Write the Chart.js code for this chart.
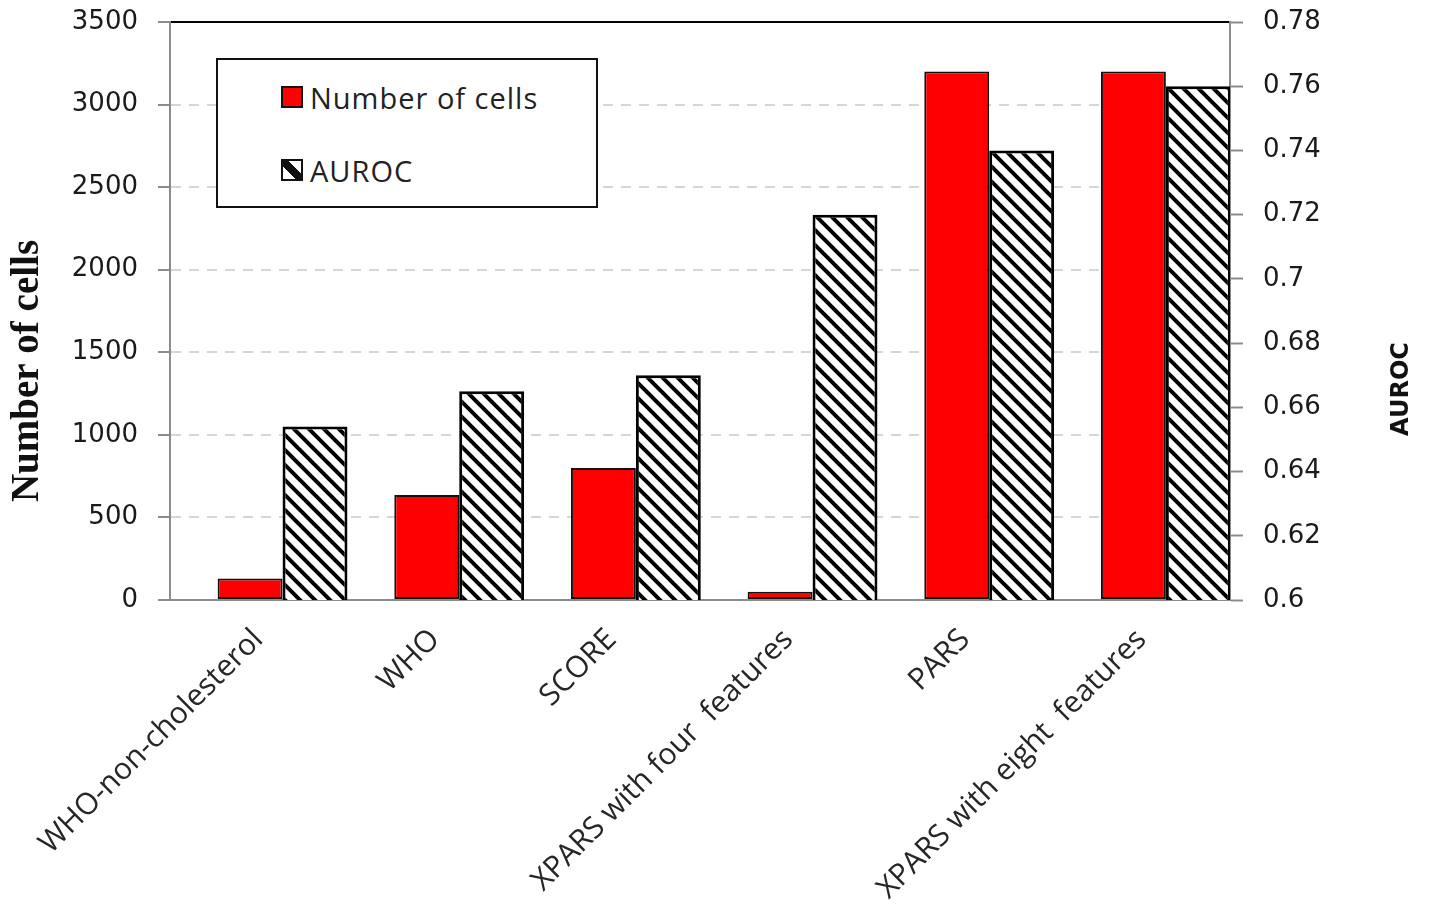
<!DOCTYPE html>
<html>
<head>
<meta charset="utf-8">
<script src="https://cdn.jsdelivr.net/npm/chart.js@4.4.0/dist/chart.umd.min.js"></script>
<style>
    html, body { margin: 0; background: #fff; }
    #wrap { position: relative; width: 1431px; height: 918px; }
    #legend {
        position: absolute; left: 216px; top: 58px; width: 378px; height: 146px;
        border: 2px solid #111; background: #fff;
        font-family: "Open Sans", sans-serif; font-size: 29px; letter-spacing: 1px; color: #222;
    }
    .item { position: absolute; left: 63px; display: flex; align-items: center; height: 36px; }
    .sw { width: 18px; height: 18px; border: 2px solid #111; margin-right: 7px; }
    .sw.red { background: #ff0000; }
    .sw.hatch { background: linear-gradient(to top right, #fff 36%, #111 36%, #111 64%, #fff 64%); }
</style>
</head>
<body>
<div id="wrap">
    <canvas id="chart" width="1431" height="918"></canvas>
    <div id="legend">
        <div class="item" style="top:19px"><span class="sw red"></span><span id="lg0"></span></div>
        <div class="item" style="top:92px"><span class="sw hatch"></span><span id="lg1"></span></div>
    </div>
</div>
<script>
const categories = ['WHO-non-cholesterol', 'WHO', 'SCORE', 'XPARS with four  features', 'PARS', 'XPARS with eight  features'];
const cellCounts = [130, 636, 800, 50, 3200, 3200];
const aurocValues = [0.654, 0.665, 0.670, 0.720, 0.740, 0.760];
const cellTicks = [0, 500, 1000, 1500, 2000, 2500, 3000, 3500];
const aurocTicks = [0.6, 0.62, 0.64, 0.66, 0.68, 0.7, 0.72, 0.74, 0.76, 0.78];
const seriesNames = ['Number of cells', 'AUROC'];

document.getElementById('lg0').textContent = seriesNames[0];
document.getElementById('lg1').textContent = seriesNames[1];

// diagonal black stripes on white for the AUROC bars
function makeHatch() {
    const s = 15;
    const c = document.createElement('canvas');
    c.width = c.height = s;
    const g = c.getContext('2d');
    g.fillStyle = '#fff';
    g.fillRect(0, 0, s, s);
    g.strokeStyle = '#000';
    g.lineWidth = 4;
    g.beginPath();
    g.moveTo(-s, 0); g.lineTo(s, 2 * s);
    g.moveTo(0, 0); g.lineTo(s, s);
    g.moveTo(0, -s); g.lineTo(2 * s, s);
    g.stroke();
    return g.createPattern(c, 'repeat');
}

// vertical axis titles drawn bottom-to-top
const axisTitles = {
    id: 'axisTitles',
    afterDraw(chart, args, opts) {
        const ctx = chart.ctx;
        opts.items.forEach(t => {
            ctx.save();
            ctx.translate(t.x, t.y);
            ctx.rotate(-Math.PI / 2);
            ctx.font = t.font;
            ctx.fillStyle = t.color;
            ctx.textAlign = 'center';
            ctx.textBaseline = 'middle';
            ctx.fillText(t.text, 0, 0);
            ctx.restore();
        });
    }
};

const tickFont = { family: 'DejaVu Sans', size: 26 };
const axisGrey = '#8c8c8c';
const toTicks = arr => arr.map(v => ({ value: v }));

// fixed axis box, no extra room reserved for overhanging tick labels
const fixWidth = w => s => { s.width = w; s.paddingTop = 0; s.paddingBottom = 0; };

new Chart(document.getElementById('chart'), {
    type: 'bar',
    data: {
        labels: categories,
        datasets: [{
            label: seriesNames[0],
            data: cellCounts.map((v, i) => ({ x: i, y: v })),
            backgroundColor: '#ff0000',
            borderColor: '#111',
            borderWidth: 2,
            borderSkipped: false,
            xAxisID: 'xb',
            yAxisID: 'y',
            categoryPercentage: 0.735,
            barPercentage: 1
        }, {
            label: seriesNames[1],
            data: aurocValues.map((v, i) => ({ x: i, y: v })),
            backgroundColor: makeHatch(),
            borderColor: '#000',
            borderWidth: 3,
            borderSkipped: false,
            xAxisID: 'xb',
            yAxisID: 'y1',
            categoryPercentage: 0.735,
            barPercentage: 1
        }]
    },
    options: {
        responsive: false,
        animation: false,
        layout: { padding: { top: 22 } },
        plugins: {
            legend: { display: false },
            tooltip: { enabled: false },
            axisTitles: {
                items: [
                    { text: 'Number of cells', x: 28, y: 371, font: 'bold 39px "Liberation Serif"', color: '#111' },
                    { text: 'AUROC', x: 1402, y: 389, font: 'bold 24px "DejaVu Sans"', color: '#111' }
                ]
            }
        },
        scales: {
            x: {
                type: 'category',
                position: 'bottom',
                offset: true,
                grid: { display: false },
                border: { display: true, color: axisGrey, width: 2 },
                ticks: {
                    maxRotation: 45, minRotation: 45, padding: 14,
                    font: { family: 'Open Sans', size: 30 }, color: '#262626'
                },
                afterFit: s => { s.height = 318; s.paddingLeft = 0; s.paddingRight = 0; }
            },
            // hidden index axis that places the bar pairs inside each category
            xb: {
                type: 'linear',
                display: false,
                offset: false,
                grid: { offset: false },
                min: -0.637,
                max: 5.363,
                afterBuildTicks: s => { s.ticks = toTicks(categories.map((c, i) => i)); }
            },
            y: {
                position: 'left',
                min: cellTicks[0],
                max: cellTicks[cellTicks.length - 1],
                afterBuildTicks: s => { s.ticks = toTicks(cellTicks); },
                afterFit: fixWidth(170),
                ticks: { font: tickFont, color: '#1a1a1a', padding: 20, callback: v => String(v) },
                grid: {
                    color: c => c.tick && c.tick.value === cellTicks[cellTicks.length - 1] ? '#000'
                        : (c.tick && c.tick.value === cellTicks[0] ? 'rgba(0,0,0,0)' : '#d6d6d6'),
                    lineWidth: 2,
                    tickColor: axisGrey,
                    tickLength: 12,
                    tickWidth: 2
                },
                border: {
                    color: axisGrey, width: 2,
                    dash: c => c.tick && c.tick.value === cellTicks[cellTicks.length - 1] ? [] : [10, 8]
                }
            },
            y1: {
                position: 'right',
                min: aurocTicks[0],
                max: aurocTicks[aurocTicks.length - 1],
                afterBuildTicks: s => { s.ticks = toTicks(aurocTicks); },
                afterFit: fixWidth(201),
                ticks: { font: tickFont, color: '#1a1a1a', padding: 20, callback: v => String(v) },
                grid: { drawOnChartArea: false, tickColor: axisGrey, tickLength: 13, tickWidth: 2 },
                border: { color: axisGrey, width: 2 }
            }
        }
    },
    plugins: [axisTitles]
});
</script>
</body>
</html>
